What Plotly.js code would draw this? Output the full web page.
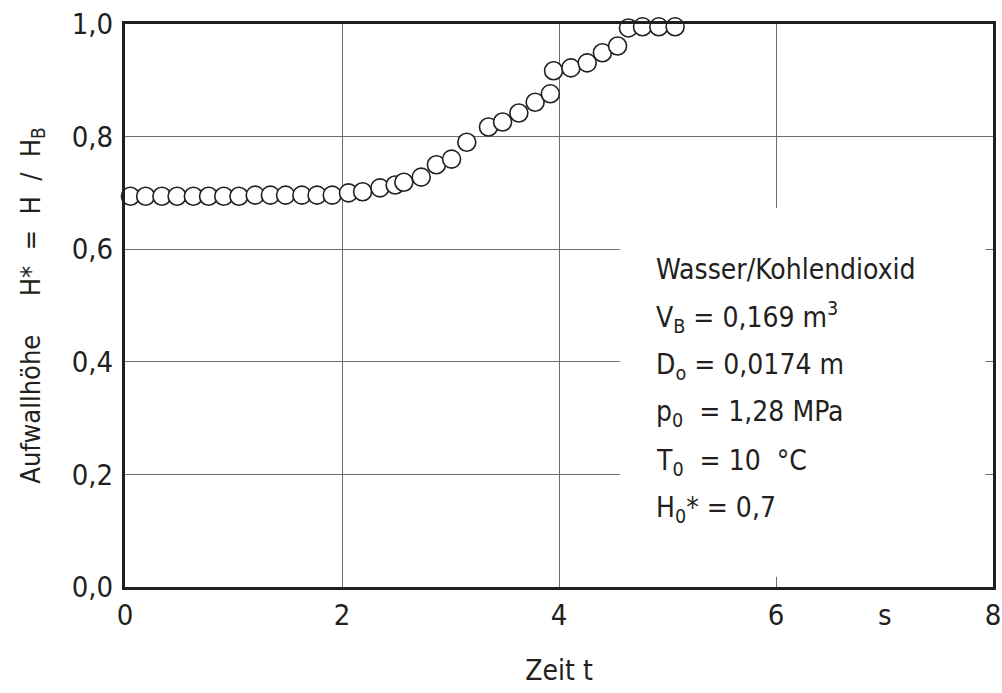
<!DOCTYPE html>
<html>
<head>
<meta charset="utf-8">
<script src="https://cdn.plot.ly/plotly-3.0.1.min.js"></script>
<style>
html,body{margin:0;padding:0;background:#fff;}
#chart{width:1002px;height:693px;}
</style>
</head>
<body>
<div id="chart"></div>
<script>
const timeS = [0.05,0.19,0.34,0.48,0.63,0.77,0.91,1.05,1.20,1.34,1.48,1.63,1.77,1.91,2.06,2.19,2.35,2.49,2.57,2.73,2.87,3.01,3.15,3.35,3.48,3.63,3.78,3.92,3.95,4.11,4.26,4.40,4.54,4.64,4.77,4.92,5.07];
const hStar = [0.694,0.694,0.694,0.694,0.694,0.694,0.694,0.694,0.696,0.696,0.696,0.696,0.696,0.696,0.700,0.702,0.709,0.714,0.719,0.728,0.750,0.760,0.790,0.817,0.826,0.842,0.861,0.876,0.917,0.922,0.931,0.949,0.961,0.993,0.995,0.995,0.995];
const xTickVals = [0,2,4,6,8];
const xTickText = ['0','2','4','6','8'];
const yTickVals = [0,0.2,0.4,0.6,0.8,1.0];
const yTickText = ['0,0','0,2','0,4','0,6','0,8','1,0'];
const infoLines = [
  'Wasser/Kohlendioxid',
  'V<sub>B</sub> = 0,169 m<sup>3</sup>',
  'D<sub>o</sub> = 0,0174 m',
  'p<sub>0</sub>  = 1,28 MPa',
  'T<sub>0</sub>  = 10  °C',
  'H<sub>0</sub>* = 0,7'
];
const infoY = [0.564, 0.479, 0.392, 0.308, 0.221, 0.138];

const FONT = '"DejaVu Sans Condensed", "DejaVu Sans", sans-serif';
const INK = '#231f20';

const annotations = infoLines.map((t, i) => ({
  x: 4.88, y: infoY[i], xref: 'x', yref: 'y', text: t, showarrow: false,
  xanchor: 'left', yanchor: 'middle', font: {family: FONT, size: 28, color: INK}
}));
annotations.push({x: 7, y: 0, xref: 'x', yref: 'y', yshift: -9, text: 's', showarrow: false,
  xanchor: 'center', yanchor: 'top', font: {family: FONT, size: 29, color: INK}});

const trace = {
  x: timeS, y: hStar, type: 'scatter', mode: 'markers', cliponaxis: false,
  marker: {symbol: 'circle', size: 18, color: '#ffffff', line: {color: INK, width: 1.6}}
};

const layout = {
  width: 1002, height: 693,
  margin: {l: 125, r: 9, t: 24, b: 106},
  paper_bgcolor: '#ffffff', plot_bgcolor: '#ffffff',
  showlegend: false,
  font: {family: FONT, color: INK},
  xaxis: {
    range: [0, 8], tickvals: xTickVals, ticktext: xTickText, ticks: '',
    showgrid: true, gridcolor: '#6d6d6d', gridwidth: 1, zeroline: false,
    showline: true, linecolor: INK, linewidth: 3, mirror: true,
    tickfont: {family: FONT, size: 29, color: INK},
    title: {text: 'Zeit t', font: {family: FONT, size: 28, color: INK}, standoff: 30}
  },
  yaxis: {
    range: [0, 1.0], tickvals: yTickVals, ticktext: yTickText, ticks: '',
    showgrid: true, gridcolor: '#6d6d6d', gridwidth: 1, zeroline: false,
    showline: true, linecolor: INK, linewidth: 3, mirror: true,
    ticklabelstandoff: 3,
    tickfont: {family: FONT, size: 29, color: INK},
    title: {text: 'Aufwallhöhe&nbsp;&nbsp;&nbsp;&nbsp;&nbsp;H*&nbsp;&nbsp;=&nbsp;&nbsp;H&nbsp;&nbsp;/&nbsp;&nbsp;H<sub>B</sub>', font: {family: FONT, size: 27, color: INK}, standoff: 24}
  },
  shapes: [{
    type: 'rect', xref: 'x', yref: 'y', x0: 4.56, x1: 7.93, y0: 0.018, y1: 0.673,
    fillcolor: '#ffffff', line: {width: 0}, layer: 'between'
  }],
  annotations: annotations
};

Plotly.newPlot('chart', [trace], layout, {displayModeBar: false, staticPlot: true});
</script>
</body>
</html>
